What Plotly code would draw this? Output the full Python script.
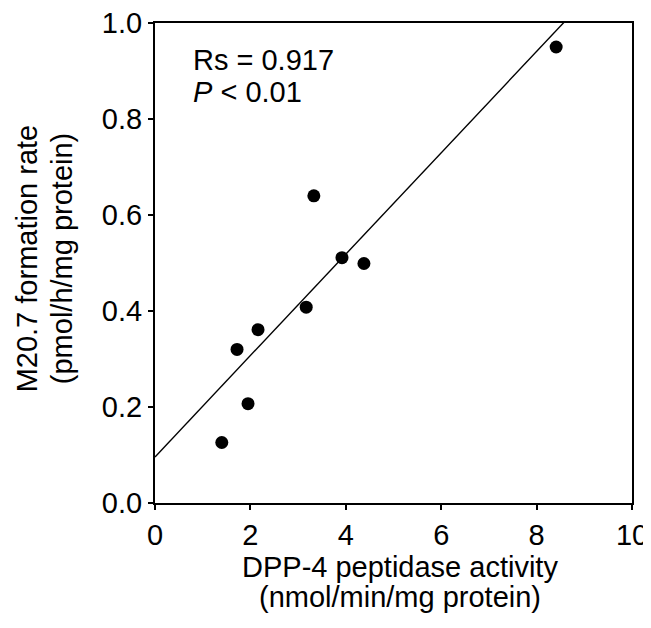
import plotly.graph_objects as go

# DPP-4 activity vs M20.7 formation rate
dpp4_activity = [1.40, 1.72, 1.95, 2.16, 3.17, 3.33, 3.92, 4.38, 8.41]
m207_rate = [0.126, 0.320, 0.207, 0.361, 0.408, 0.640, 0.511, 0.499, 0.950]

# regression line as drawn in the figure
fit_slope = 0.1056
fit_intercept = 0.096
fit_x = [0, 10]
fit_y = [fit_intercept + fit_slope * x for x in fit_x]

x_ticks = [0, 2, 4, 6, 8, 10]
y_ticks = [0.0, 0.2, 0.4, 0.6, 0.8, 1.0]

font = dict(family="Liberation Sans, Arial, sans-serif", size=29, color="black")

fig = go.Figure()
fig.add_trace(go.Scatter(
    x=fit_x, y=fit_y, mode="lines",
    line=dict(color="black", width=1.4),
    showlegend=False, hoverinfo="skip",
))
fig.add_trace(go.Scatter(
    x=dpp4_activity, y=m207_rate, mode="markers",
    marker=dict(color="black", size=13),
    showlegend=False,
))

# stats text
fig.add_annotation(x=0.076, y=0.923, xref="paper", yref="paper", text="Rs = 0.917",
                   showarrow=False, xanchor="left", yanchor="middle", font=font)
fig.add_annotation(x=0.076, y=0.856, xref="paper", yref="paper", text="<i>P</i> < 0.01",
                   showarrow=False, xanchor="left", yanchor="middle", font=font)

# axis titles (two lines each, tighter spacing than plotly's default)
fig.add_annotation(x=0.514, y=-0.133, xref="paper", yref="paper", text="DPP-4 peptidase activity",
                   showarrow=False, xanchor="center", yanchor="middle", font=font)
fig.add_annotation(x=0.514, y=-0.196, xref="paper", yref="paper", text="(nmol/min/mg protein)",
                   showarrow=False, xanchor="center", yanchor="middle", font=font)
fig.add_annotation(x=-0.268, y=0.51, xref="paper", yref="paper", text="M20.7 formation rate",
                   showarrow=False, textangle=-90, xanchor="center", yanchor="middle", font=font)
fig.add_annotation(x=-0.195, y=0.51, xref="paper", yref="paper", text="(pmol/h/mg protein)",
                   showarrow=False, textangle=-90, xanchor="center", yanchor="middle", font=font)

axis_common = dict(
    showgrid=False, zeroline=False, showline=True, linecolor="black", linewidth=2,
    mirror=True, ticks="outside", ticklen=5, tickwidth=1.5, tickcolor="black",
    tickfont=font, automargin=False, ticklabeloverflow="allow",
)

# page body adds an 8px offset, so the figure is 8px smaller and shifted
fig.update_layout(
    template="none",
    width=643, height=620,
    margin=dict(l=147, r=19, t=15, b=125),
    paper_bgcolor="white", plot_bgcolor="white",
    font=font,
    xaxis=dict(range=[0, 10], tickvals=x_ticks, ticktext=[str(v) for v in x_ticks], **axis_common),
    yaxis=dict(range=[0, 1], tickvals=y_ticks, ticktext=[f"{v:.1f}" for v in y_ticks], **axis_common),
)

fig.write_html("out.html")
